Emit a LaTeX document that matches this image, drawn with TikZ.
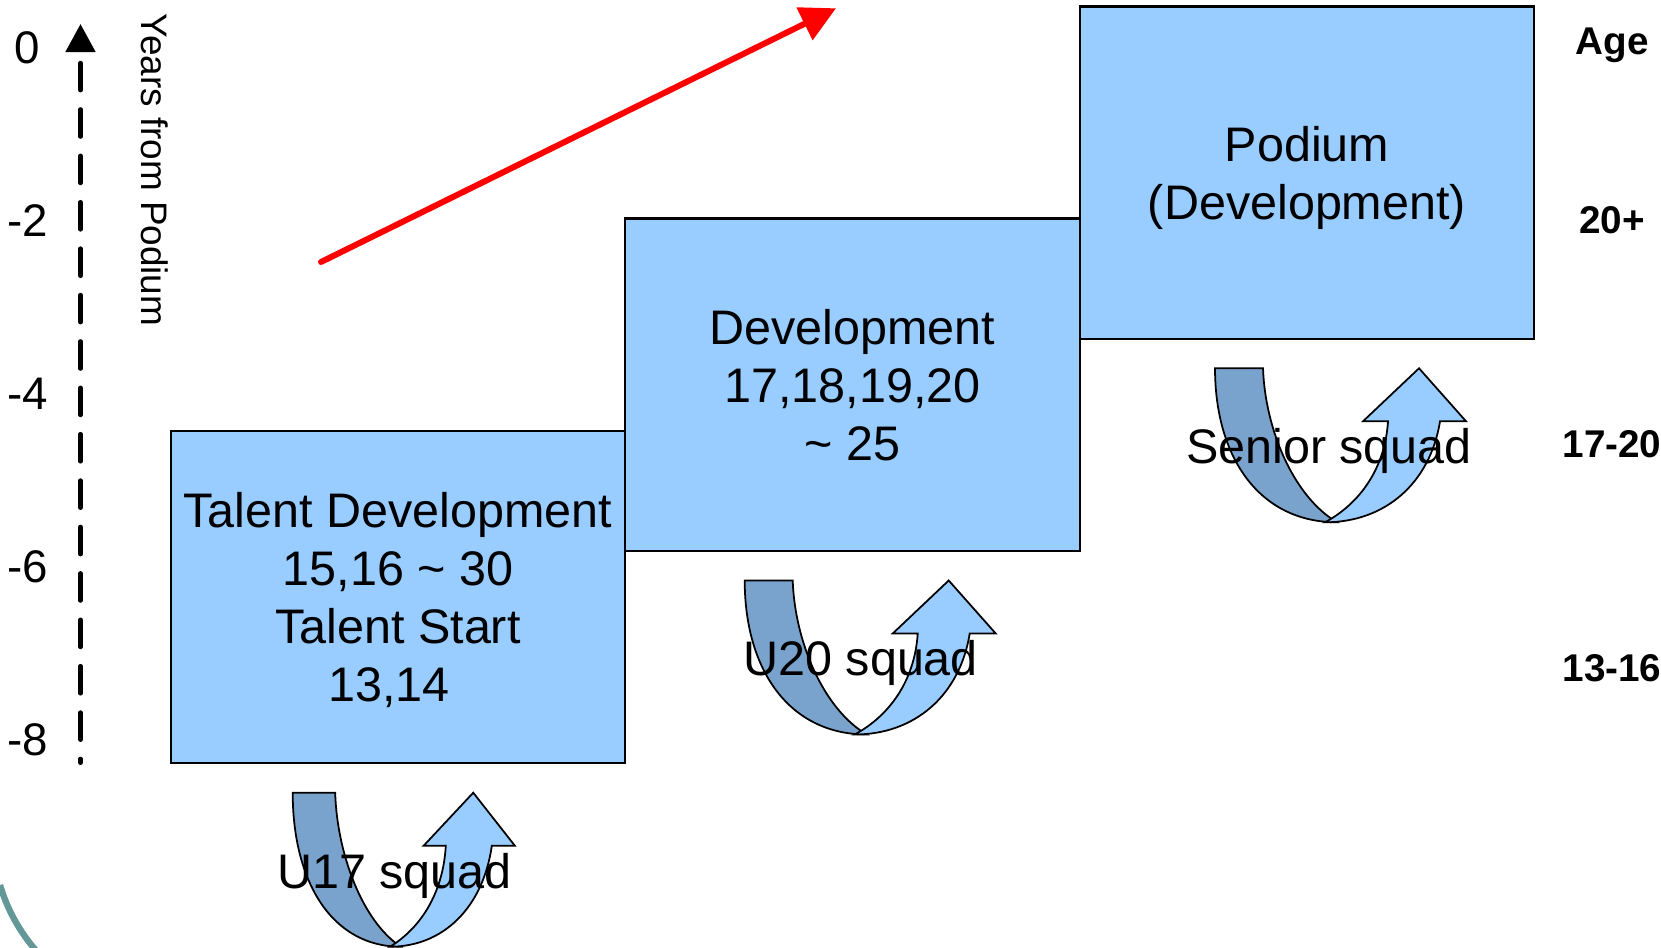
\documentclass[tikz,border=0pt]{standalone}
\usepackage{fontspec}
\setmainfont{Liberation Sans}
\usepackage{xcolor}
\usetikzlibrary{arrows.meta, positioning}

\definecolor{boxblue}{RGB}{153,204,255}
\definecolor{backblue}{RGB}{121,163,204}
\definecolor{slideteal}{RGB}{100,152,152}

\tikzset{
  uturn/.pic={
    \filldraw[fill=backblue, draw=black, line width=0.5pt] (0,0) -- (0.48,0)
      .. controls (0.50,-0.60) and (0.78,-1.28) .. (1.22,-1.54)
      .. controls (0.45,-1.54) and (0,-0.90) .. cycle;
    \filldraw[fill=boxblue, draw=black, line width=0.5pt] (1.10,-1.54)
      .. controls (1.70,-1.54) and (2.15,-1.15) .. (2.25,-0.53)
      -- (2.51,-0.53) -- (2.04,0) -- (1.48,-0.53) -- (1.73,-0.53)
      .. controls (1.70,-1.00) and (1.45,-1.35) .. cycle;
  }
}

\begin{document}
\begin{tikzpicture}[
  stage/.style={draw=black, line width=0.6pt, fill=boxblue, minimum width=4.545cm,
    minimum height=3.325cm, inner sep=0pt, outer sep=0pt, align=center, text depth=0pt,
    font=\fontsize{13.8}{16.5}\selectfont},
  squad/.style={anchor=base, inner sep=0pt, font=\fontsize{13.8}{16.5}\selectfont},
  agelabel/.style={anchor=base, inner sep=0pt, font=\bfseries\fontsize{11}{13}\selectfont},
  tick/.style={inner sep=0pt, font=\fontsize{13}{15}\selectfont},
  yaxis/.style={line width=1.3pt, line cap=round, dash pattern=on 7.7pt off 5.5pt,
    dash phase=9.75pt, {Triangle[length=8pt,width=8.3pt]}-},
  growth/.style={red, line width=1.7pt, line cap=round, -{Triangle[length=10pt,width=10pt]}}
]
\useasboundingbox (0,0) rectangle (16.61,-9.48);

\draw[slideteal, line width=1.8pt] (0,-8.85) .. controls (0.06,-9.05) and (0.17,-9.3) .. (0.40,-9.55);

\node[stage, anchor=south west] (talent) at (1.707,-7.633)
  {Talent Development\\15,16 \textasciitilde{} 30\\Talent Start\\13,14\kern.18cm};
\node[stage, above right=2.123cm and 0cm of talent.south east] (devel)
  {Development\\17,18,19,20\\\textasciitilde{} 25};
\node[stage, above right=2.12cm and 0cm of devel.south east] (podium)
  {Podium\\(Development)};

\path (2.927,-7.927) pic[xscale=0.885] {uturn};
\path (7.447,-5.805) pic {uturn};
\path (12.15,-3.683) pic {uturn};

\node[squad] (u17) at (3.946,-8.883) {U17 squad};
\node[squad] (u20) at (8.607,-6.758) {U20 squad};
\node[squad] (senior) at (13.29,-4.633) {Senior squad};

\coordinate (axtop) at (0.805,-0.24);
\coordinate (axbot) at (0.805,-7.627);
\draw[yaxis] (axtop) -- (axbot);
\foreach \v [count=\i from 0] in {0,-2,-4,-6,-8}
  \node[tick] (tick\i) at (0.275,-0.477-1.729*\i) {\v};
\node[rotate=-90, font=\fontsize{10.5}{12}\selectfont] (years) at (1.55,-1.70) {Years from Podium};

\coordinate (rstart) at (3.21,-2.62);
\coordinate (rend) at (8.36,-0.083);
\draw[growth] (rstart) -- (rend);

\node[agelabel] (age) at (16.12,-0.55) {Age};
\node[agelabel] (age20) at (16.12,-2.34) {20+};
\node[agelabel] (age17) at (16.12,-4.576) {17-20};
\node[agelabel] (age13) at (16.12,-6.81) {13-16};

\end{tikzpicture}
\end{document}
